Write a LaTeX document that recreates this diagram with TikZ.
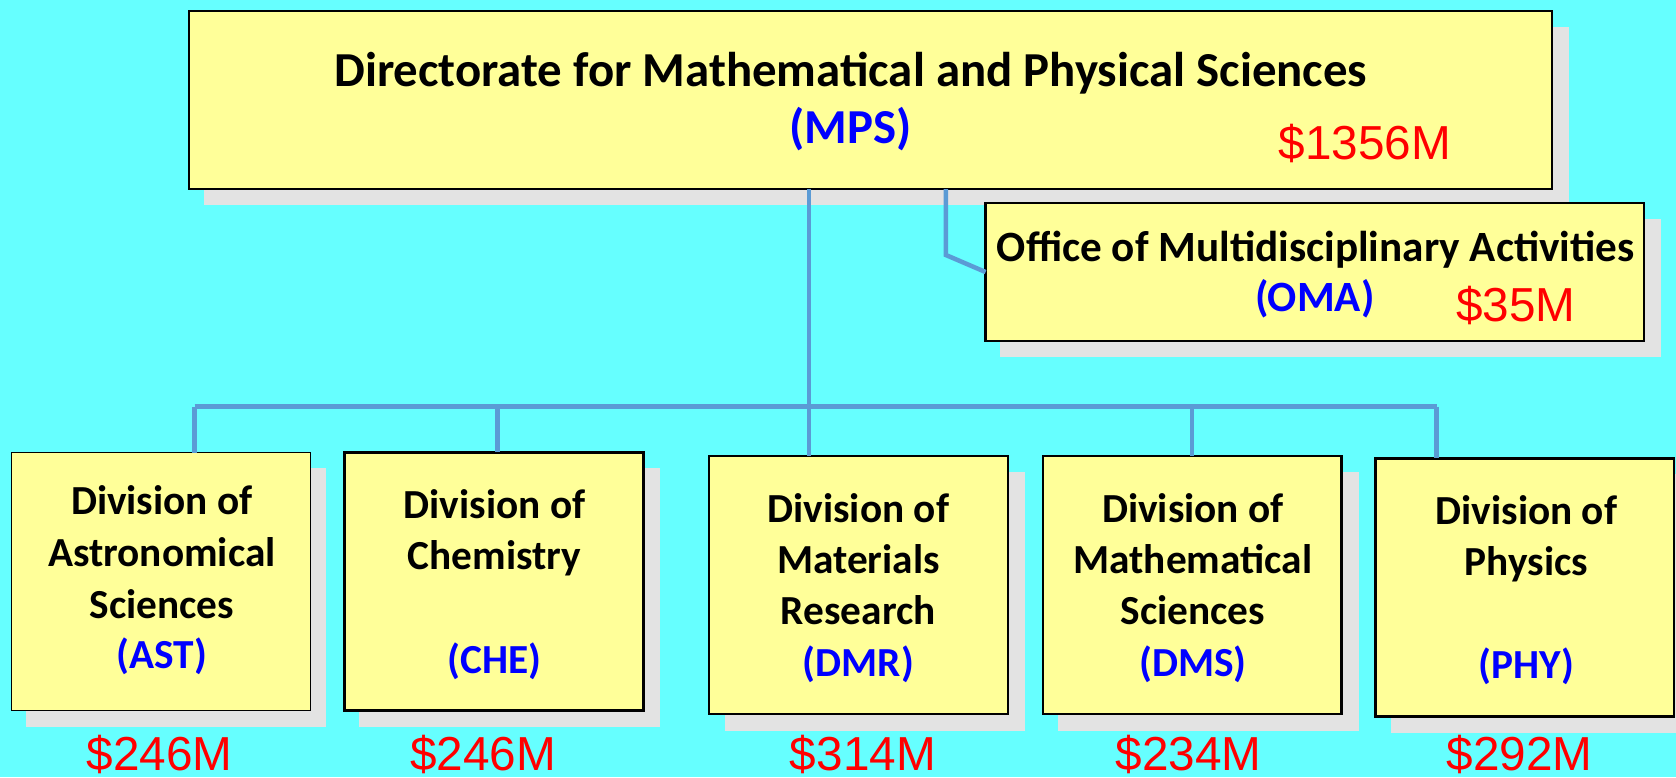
\documentclass[tikz,border=0pt]{standalone}
\usepackage{fontspec}
\setmainfont{Carlito}
\newfontfamily\arialf{Liberation Sans}
\definecolor{bgc}{HTML}{66FFFF}
\definecolor{boxfill}{HTML}{FFFF99}
\definecolor{shadec}{HTML}{E3E3E3}
\definecolor{connc}{HTML}{5B9BD5}
\definecolor{acroc}{HTML}{0000FF}
\definecolor{moneyc}{HTML}{FF0000}
\begin{document}
\begin{tikzpicture}[x=0.02cm,y=-0.02cm,
  boxst/.style={draw=black, fill=boxfill, inner sep=0pt, outer sep=0pt, line width=1.2pt},
  divbox/.style={boxst, minimum width=5.59cm, minimum height=4.83cm},
  divtxt/.style={anchor=base, inner sep=0pt, font=\bfseries\fontsize{22}{26}\selectfont},
  acrotxt/.style={divtxt, text=acroc},
  moneytxt/.style={anchor=base, inner sep=0pt, text=moneyc, font=\arialf\fontsize{25.4}{30}\selectfont},
  conn/.style={draw=connc, line width=2.4pt}]
\useasboundingbox (0,0) rectangle (1568,727);
\clip (0,0) rectangle (1568,727);
\fill[bgc] (0,0) rectangle (1568,727);

% shadows
\fill[shadec] (191,25) rectangle (1468,192);
\fill[shadec] (936,205) rectangle (1554,334);
\fill[shadec] (24.5,438) rectangle (305,680.5);
\fill[shadec] (336,437.6) rectangle (617,680.5);
\fill[shadec] (678,441.6) rectangle (959,684);
\fill[shadec] (990,441.6) rectangle (1271,684);
\fill[shadec] (1301,443.8) rectangle (1581,685.5);

% connector junctions
\coordinate (hub) at (757,380.5);
\coordinate (jA) at (182,380.5);
\coordinate (jC) at (465.5,380.5);
\coordinate (jS) at (1115,380.5);
\coordinate (jP) at (1344,380.5);
\coordinate (bend) at (885,238.6);

% boxes
\node[boxst, minimum width=25.5cm, minimum height=3.34cm] (mps) at (814.5,93.5) {};
\node[boxst, minimum width=12.32cm, minimum height=2.58cm] (oma) at (1230,254.5) {};
\node[divbox, line width=0.6pt] (ast) at (150.6,544.2) {};
\node[divbox, line width=1.6pt] (che) at (462.3,543.8) {};
\node[divbox] (dmr) at (803.2,547.3) {};
\node[divbox] (dms) at (1115.4,547.3) {};
\node[divbox, line width=1.4pt] (phy) at (1426.5,549.4) {};

% connectors
\draw[conn] (mps.south -| hub) -- (hub) -- (dmr.north -| hub);
\draw[conn] (jA) -- (jP);
\draw[conn] (jA) -- (ast.north -| jA);
\draw[conn] (jC) -- (che.north -| jC);
\draw[conn] (jS) -- (dms.north -| jS);
\draw[conn] (jP) -- (phy.north -| jP);
\draw[conn] (mps.south -| bend) -- (bend) -- (oma.west);

% MPS text
\node[anchor=base, inner sep=0pt, font=\bfseries\fontsize{26}{30}\selectfont] (mpsname) at (796,81) {Directorate for Mathematical and Physical Sciences};
\node[anchor=base, inner sep=0pt, text=acroc, font=\bfseries\fontsize{26}{30}\selectfont] (mpsacro) at (796,134) {(MPS)};
\node[moneytxt] (mpsmoney) at (1277,149) {\$1356M};

% OMA text
\node[anchor=base, inner sep=0pt, font=\bfseries\fontsize{23}{27}\selectfont] (omaname) at (1231,245) {Office of Multidisciplinary Activities};
\node[anchor=base, inner sep=0pt, text=acroc, font=\bfseries\fontsize{23}{27}\selectfont] (omaacro) at (1230,291.6) {(OMA)};
\node[moneytxt] (omamoney) at (1418,301) {\$35M};

% AST
\node[divtxt] (astA) at (151.4,481.8) {Division of};
\node[divtxt] (astB) at (151.4,530) {Astronomical};
\node[divtxt] (astC) at (151.4,578.5) {Sciences};
\node[acrotxt] (astD) at (151.4,625.3) {(AST)};
% CHE
\node[divtxt] (cheA) at (462.6,485) {Division of};
\node[divtxt] (cheB) at (462.6,533) {Chemistry};
\node[acrotxt] (cheD) at (462.6,630) {(CHE)};
% DMR
\node[divtxt] (dmrA) at (803,489) {Division of};
\node[divtxt] (dmrB) at (803,536.4) {Materials};
\node[divtxt] (dmrC) at (803,584.7) {Research};
\node[acrotxt] (dmrD) at (803,633) {(DMR)};
% DMS
\node[divtxt] (dmsA) at (1116,489) {Division of};
\node[divtxt] (dmsB) at (1116,536.4) {Mathematical};
\node[divtxt] (dmsC) at (1116,584.7) {Sciences};
\node[acrotxt] (dmsD) at (1116,633) {(DMS)};
% PHY
\node[divtxt] (phyA) at (1428,491) {Division of};
\node[divtxt] (phyB) at (1428,538) {Physics};
\node[acrotxt] (phyD) at (1428,634.6) {(PHY)};

% budgets (cut by the lower edge, as in the original)
\node[moneytxt] (astmoney) at (149.4,721) {\$246M};
\node[moneytxt] (chemoney) at (452,721) {\$246M};
\node[moneytxt] (dmrmoney) at (807.3,720.4) {\$314M};
\node[moneytxt] (dmsmoney) at (1112,721) {\$234M};
\node[moneytxt] (phymoney) at (1421.6,721) {\$292M};
\end{tikzpicture}
\end{document}
